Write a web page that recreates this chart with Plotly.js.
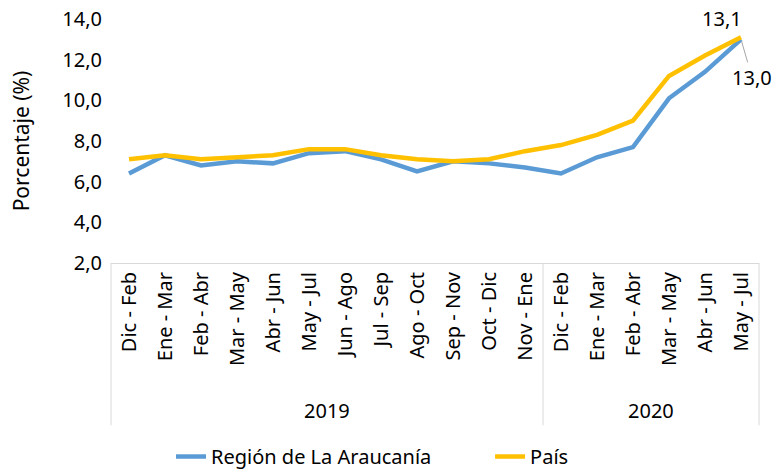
<!DOCTYPE html>
<html>
<head>
<meta charset="utf-8">
<script src="https://cdn.plot.ly/plotly-3.0.1.min.js"></script>
<style>html,body{margin:0;padding:0;background:#fff;}#chart{width:783px;height:476px;}</style>
</head>
<body>
<div id="chart"></div>
<script>
const years = ["2019","2019","2019","2019","2019","2019","2019","2019","2019","2019","2019","2019","2020","2020","2020","2020","2020","2020"];
const periods = ["Dic - Feb","Ene - Mar","Feb - Abr","Mar - May","Abr - Jun","May - Jul","Jun - Ago","Jul - Sep","Ago - Oct","Sep - Nov","Oct - Dic","Nov - Ene","Dic - Feb","Ene - Mar","Feb - Abr","Mar - May","Abr - Jun","May - Jul"];
const region = [6.4, 7.3, 6.8, 7.0, 6.9, 7.4, 7.5, 7.1, 6.5, 7.0, 6.9, 6.7, 6.4, 7.2, 7.7, 10.1, 11.4, 13.0];
const pais = [7.1, 7.3, 7.1, 7.2, 7.3, 7.6, 7.6, 7.3, 7.1, 7.0, 7.1, 7.5, 7.8, 8.3, 9.0, 11.2, 12.2, 13.1];
const seriesNames = ["Región de La Araucanía", "País"];
const yTickVals = [2, 4, 6, 8, 10, 12, 14];
const yTickText = ["2,0", "4,0", "6,0", "8,0", "10,0", "12,0", "14,0"];

const font = "Noto Sans, sans-serif";
const idx = periods.map((p, i) => i);
const last = periods.length - 1;
const fmt = v => v.toFixed(1).replace(".", ",");

// year groups derived from data
const groups = [];
years.forEach((y, i) => {
  let g = groups.find(o => o.year === y);
  if (!g) { g = {year: y, first: i, last: i}; groups.push(g); }
  g.last = i;
});
const n = periods.length;
const boxBottom = -0.665;
const lineStyle = {color: "#d9d9d9", width: 1};
const shapes = [];
const bounds = [0];
groups.forEach(g => bounds.push((g.last + 1) / n));
bounds.forEach(b => shapes.push({type: "line", xref: "paper", yref: "paper",
  x0: b, x1: b, y0: 0, y1: boxBottom, line: lineStyle}));

const yearAnnots = groups.map(g => ({
  xref: "x", yref: "paper", x: (g.first + g.last) / 2, y: -0.603,
  text: g.year, showarrow: false, yanchor: "middle",
  font: {family: font, size: 20, color: "#000"}
}));

const traces = [
  {x: idx, y: region, type: "scatter", mode: "lines", name: seriesNames[0],
   legend: "legend", line: {color: "#5B9BD5", width: 4.5}},
  {x: idx, y: pais, type: "scatter", mode: "lines", name: seriesNames[1],
   legend: "legend2", line: {color: "#FFC000", width: 4.5}}
];

const legendBase = {orientation: "h", xanchor: "left", y: -0.873, yanchor: "bottom",
  bgcolor: "rgba(0,0,0,0)", font: {family: font, size: 20, color: "#000"}};

const layout = {
  width: 783, height: 476,
  margin: {l: 111, r: 24, t: 18.5, b: 213.3, autoexpand: false},
  paper_bgcolor: "#fff", plot_bgcolor: "#fff",
  font: {family: font, size: 20, color: "#000"},
  showlegend: true,
  legend: Object.assign({x: 0.0926}, legendBase),
  legend2: Object.assign({x: 0.585}, legendBase),
  xaxis: {range: [-0.5, n - 0.5], tickvals: idx, ticktext: periods,
          showgrid: false, zeroline: false,
          showline: true, linecolor: "#d9d9d9", linewidth: 1,
          ticks: "", tickangle: -90, tickfont: {family: font, size: 20, color: "#000"}},
  yaxis: {range: [2, 14], tickvals: yTickVals, ticktext: yTickText,
          showgrid: false, zeroline: false, showline: false, ticks: "",
          ticklabelstandoff: 8,
          tickfont: {family: font, size: 20, color: "#000"},
          title: {text: "Porcentaje (%)", font: {family: font, size: 21, color: "#000"}, standoff: 26}},
  shapes: shapes,
  annotations: yearAnnots.concat([
    {x: last, y: pais[last], xref: "x", yref: "y",
     text: fmt(pais[last]),
     showarrow: false, xshift: -19, yshift: 19,
     font: {family: font, size: 20, color: "#000"}},
    {x: last, y: region[last], xref: "x", yref: "y",
     text: fmt(region[last]),
     showarrow: true, arrowhead: 0, arrowwidth: 1, arrowcolor: "#a6a6a6",
     ax: 11, ay: 38, standoff: 2,
     font: {family: font, size: 20, color: "#000"}}
  ])
};

Plotly.newPlot("chart", traces, layout, {displayModeBar: false, staticPlot: true});
</script>
</body>
</html>
